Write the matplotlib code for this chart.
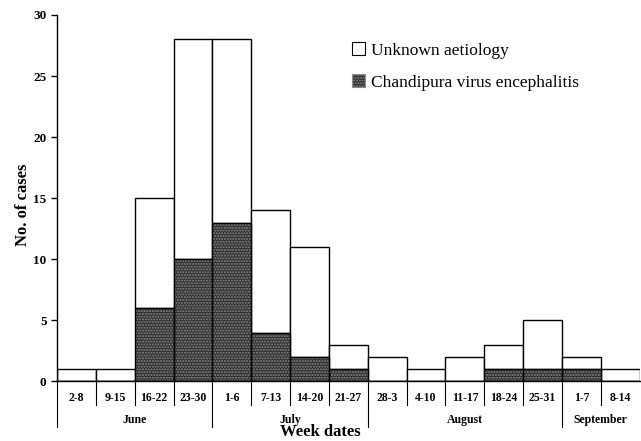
import matplotlib
matplotlib.use("Agg")
import matplotlib.pyplot as plt
from matplotlib.patches import Patch
import numpy as np

weeks = ["2-8", "9-15", "16-22", "23-30", "1-6", "7-13", "14-20", "21-27",
         "28-3", "4-10", "11-17", "18-24", "25-31", "1-7", "8-14"]
chandipura = [0, 0, 6, 10, 13, 4, 2, 1, 0, 0, 0, 1, 1, 1, 0]
total = [1, 1, 15, 28, 28, 14, 11, 3, 2, 1, 2, 3, 5, 2, 1]
months = ["June", "July", "August", "September"]
month_weeks = [4, 4, 5, 2]

plt.rcParams['font.family'] = ['Liberation Serif', 'DejaVu Serif']

fig = plt.figure(figsize=(6.41, 4.41), dpi=100)
ax = fig.add_axes([0.0889, 0.135, 0.909, 0.831])

x = np.arange(len(weeks)) + 0.5
chand = np.array(chandipura)
unknown = np.array(total) - chand

ax.bar(x, unknown, bottom=chand, width=1.0, facecolor='white',
       edgecolor='black', linewidth=1.0, zorder=2)
ax.bar(x, chand, width=1.0, facecolor='#2e2e2e', edgecolor='#8a8a8a',
       hatch='......', linewidth=0, zorder=2)
ax.bar(x, chand, width=1.0, fill=False, edgecolor='black', linewidth=1.0, zorder=3)

ax.set_xlim(0, 15)
ax.set_ylim(0, 30)
ax.set_yticks(range(0, 31, 5))
for lab in ax.get_yticklabels():
    lab.set_fontweight('bold')
    lab.set_fontsize(9.5)
ax.tick_params(axis='y', direction='out', length=4, width=1)
ax.set_xticks([])
for s in ['top', 'right']:
    ax.spines[s].set_visible(False)
ax.spines['left'].set_linewidth(1.0)
ax.spines['bottom'].set_linewidth(1.0)

trans = ax.get_xaxis_transform()
for i, w in enumerate(weeks):
    ax.text(i + 0.5, -0.045, w, transform=trans, ha='center', va='center',
            fontsize=8.5, fontweight='bold', clip_on=False)
bounds = np.cumsum([0] + month_weeks)
for i in range(1, len(weeks)):
    if i in bounds:
        continue
    ax.plot([i, i], [0, -0.064], transform=trans, color='black', lw=0.8,
            clip_on=False)
for b in bounds[:-1]:
    ax.plot([b, b], [0, -0.124], transform=trans, color='black', lw=0.8,
            clip_on=False)
for m, a, b in zip(months, bounds[:-1], bounds[1:]):
    ax.text((a + b) / 2, -0.104, m, transform=trans, ha='center', va='center',
            fontsize=8.5, fontweight='bold', clip_on=False)

fig.text(0.5, 0.02, "Week dates", ha='center', va='center',
         fontsize=12, fontweight='bold')
fig.text(0.036, 0.535, "No. of cases", ha='center', va='center', rotation=90,
         fontsize=12, fontweight='bold')

handles = [Patch(facecolor='white', edgecolor='black', linewidth=0.8),
           Patch(facecolor='#2e2e2e', edgecolor='#8a8a8a', hatch='......', linewidth=0.8)]
leg = ax.legend(handles, ["Unknown aetiology", "Chandipura virus encephalitis"],
                loc='upper left', bbox_to_anchor=(0.495, 0.945), frameon=False,
                fontsize=12.5, handlelength=0.75, handleheight=0.75,
                handletextpad=0.3, labelspacing=0.9, borderaxespad=0)

fig.savefig("out.png", dpi=100)
